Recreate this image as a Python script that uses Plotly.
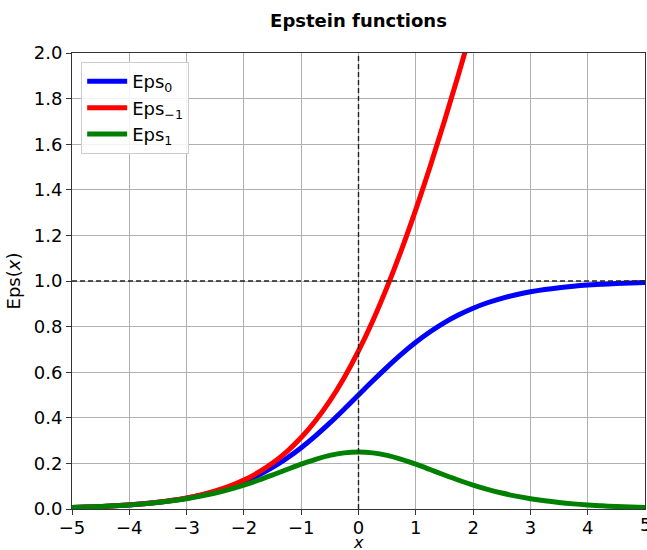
import plotly.graph_objects as go

x_vals = [-5.0, -4.75, -4.5, -4.25, -4.0, -3.75, -3.5, -3.25, -3.0, -2.75, -2.5, -2.25, -2.0,
          -1.75, -1.5, -1.25, -1.0, -0.75, -0.5, -0.25, 0.0, 0.25, 0.5, 0.75, 1.0, 1.25, 1.5,
          1.75, 2.0, 2.25, 2.5, 2.75, 3.0, 3.25, 3.5, 3.75, 4.0, 4.25, 4.5, 4.75, 5.0]

eps0 = [0.0067, 0.0086, 0.0110, 0.0141, 0.0180, 0.0230, 0.0293, 0.0373, 0.0474, 0.0601, 0.0759,
        0.0954, 0.1192, 0.1481, 0.1824, 0.2227, 0.2689, 0.3208, 0.3775, 0.4378, 0.5000, 0.5622,
        0.6225, 0.6792, 0.7311, 0.7773, 0.8176, 0.8519, 0.8808, 0.9046, 0.9241, 0.9399, 0.9526,
        0.9627, 0.9707, 0.9770, 0.9820, 0.9859, 0.9890, 0.9914, 0.9933]

eps_m1 = [0.0067, 0.0086, 0.0110, 0.0142, 0.0182, 0.0232, 0.0298, 0.0380, 0.0486, 0.0620, 0.0789,
          0.1002, 0.1269, 0.1602, 0.2014, 0.2519, 0.3133, 0.3869, 0.4741, 0.5759, 0.6931, 0.8259,
          0.9741, 1.1369, 1.3133, 1.5019, 1.7014, 1.9102, 2.1269, 2.3502, 2.5789, 2.8120, 3.0486,
          3.2880, 3.5298, 3.7732, 4.0182, 4.2642, 4.5110, 4.7586, 5.0067]

eps1 = [0.0066, 0.0085, 0.0109, 0.0139, 0.0177, 0.0225, 0.0285, 0.0359, 0.0452, 0.0565, 0.0701,
        0.0863, 0.1050, 0.1261, 0.1491, 0.1731, 0.1966, 0.2179, 0.2350, 0.2461, 0.2500, 0.2461,
        0.2350, 0.2179, 0.1966, 0.1731, 0.1491, 0.1261, 0.1050, 0.0863, 0.0701, 0.0565, 0.0452,
        0.0359, 0.0285, 0.0225, 0.0177, 0.0139, 0.0109, 0.0085, 0.0066]

x_ticks = [-5, -4, -3, -2, -1, 0, 1, 2, 3, 4, 5]

names = ["Eps<sub>0</sub>", "Eps<sub>\u22121</sub>", "Eps<sub>1</sub>"]
colors = ["#0000ff", "#ff0000", "#008000"]
series = [eps0, eps_m1, eps1]

FONT = "DejaVu Sans, sans-serif"
TICK_SIZE = 18

fig = go.Figure()
for name, col, ys in zip(names, colors, series):
    fig.add_trace(go.Scatter(x=x_vals, y=ys, mode="lines", name=name,
                             line=dict(color=col, width=5, shape="spline")))

fig.add_shape(type="line", xref="x", yref="paper", x0=0, x1=0, y0=0, y1=1,
              line=dict(color="#222222", width=1.4, dash="5px,3px"), layer="above")
fig.add_shape(type="line", xref="paper", yref="y", x0=0, x1=1, y0=1, y1=1,
              line=dict(color="#222222", width=1.4, dash="5px,3px"), layer="above")

axis_common = dict(showgrid=True, gridcolor="#b0b0b0", gridwidth=1,
                   showline=True, linecolor="#333333", linewidth=1, mirror=True,
                   ticks="outside", ticklen=5, tickcolor="#333333", tickwidth=1,
                   zeroline=False, automargin=False,
                   tickfont=dict(size=TICK_SIZE, color="black", family=FONT))

# last x tick label sits on the page edge; draw it as text so it is not dropped
fig.add_annotation(x=x_ticks[-1], xref="x", y=0, yref="paper", yshift=-3,
                   text=str(x_ticks[-1]), showarrow=False, xanchor="center", yanchor="top",
                   font=dict(size=TICK_SIZE, family=FONT, color="black"))

# x-axis title, placed below the tick labels
fig.add_annotation(x=0.5, xref="paper", y=0, yref="paper", yshift=-33,
                   text="<i>x</i>", showarrow=False, xanchor="center", yanchor="middle",
                   font=dict(size=16, family=FONT, color="black"))

fig.update_layout(
    width=647, height=550,
    margin=dict(l=72, r=2, t=53, b=41),
    paper_bgcolor="white", plot_bgcolor="white",
    font=dict(family=FONT, color="black"),
    title=dict(text="<b>Epstein functions</b>", x=0.5, xref="paper", xanchor="center",
               y=0.963, yref="container", yanchor="middle",
               font=dict(size=18, family=FONT, color="black")),
    xaxis=dict(range=[-5, 5], tickvals=x_ticks[:-1],
               ticktext=[("\u2212" + str(-t)) if t < 0 else str(t) for t in x_ticks[:-1]],
               ticklabelstandoff=-3,
               **axis_common),
    yaxis=dict(range=[0, 2], dtick=0.2, tick0=0, tickformat=".1f",
               title=dict(text="Eps(<i>x</i>)", standoff=8, font=dict(size=18, family=FONT)),
               **axis_common),
    legend=dict(x=0.016, y=0.98, xanchor="left", yanchor="top",
                bgcolor="rgba(255,255,255,0.85)", bordercolor="#cccccc", borderwidth=1,
                font=dict(size=18, family=FONT, color="black"),
                itemwidth=40, tracegroupgap=0),
    showlegend=True,
)

fig.write_html("out.html")
